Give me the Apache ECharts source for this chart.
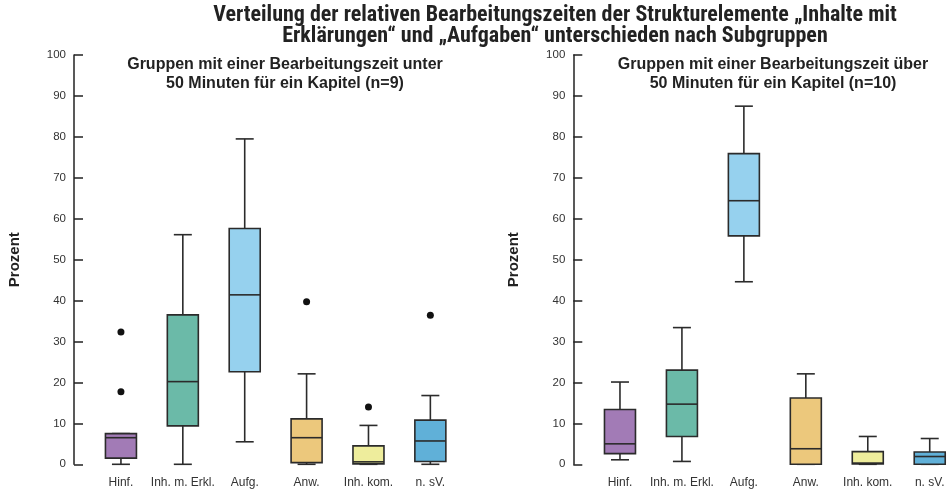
<!DOCTYPE html>
<html><head><meta charset="utf-8">
<script src="https://cdn.jsdelivr.net/npm/echarts@6/dist/echarts.min.js"></script>
<style>html,body{margin:0;padding:0;background:#fff}#c{width:947px;height:492px}</style>
</head><body><div id="c"></div>
<script>
const categories = ['Hinf.', 'Inh. m. Erkl.', 'Aufg.', 'Anw.', 'Inh. kom.', 'n. sV.'];
const boxColors = ['#a27bb6', '#6bbaa8', '#96d1ee', '#ecc87c', '#eeed9c', '#60b0d8'];
const yTicks = [0, 10, 20, 30, 40, 50, 60, 70, 80, 90, 100];

// Panel 1: < 50 min (n=9)
const p1Min = [0, 0, 5.5, 0, 0, 0];
const p1Q1  = [1.5, 9.4, 22.6, 0.4, 0.1, 0.7];
const p1Med = [6.5, 20.2, 41.4, 6.5, 0.6, 5.7];
const p1Q3  = [7.5, 36.5, 57.6, 11.1, 4.5, 10.8];
const p1Max = [7.5, 56.1, 79.5, 22.1, 9.5, 16.8];
const p1OutCat = ['Hinf.', 'Hinf.', 'Anw.', 'Inh. kom.', 'n. sV.'];
const p1OutVal = [32.3, 17.7, 39.7, 14.0, 36.4];

// Panel 2: > 50 min (n=10)
const p2Min = [1.1, 0.7, 44.6, 0, 0, 0];
const p2Q1  = [2.6, 6.8, 55.8, 0, 0.1, 0];
const p2Med = [5.0, 14.7, 64.4, 3.8, 0.3, 1.9];
const p2Q3  = [13.4, 23.0, 75.9, 16.2, 3.1, 3.0];
const p2Max = [20.1, 33.4, 87.5, 22.1, 6.8, 6.3];

const mainTitle1 = 'Verteilung der relativen Bearbeitungszeiten der Strukturelemente „Inhalte mit';
const mainTitle2 = 'Erklärungen“ und „Aufgaben“ unterschieden nach Subgruppen';
const sub1a = 'Gruppen mit einer Bearbeitungszeit unter';
const sub1b = '50 Minuten für ein Kapitel (n=9)';
const sub2a = 'Gruppen mit einer Bearbeitungszeit über';
const sub2b = '50 Minuten für ein Kapitel (n=10)';
const yName = 'Prozent';

function boxData(mn, q1, md, q3, mx) {
  return categories.map((c, i) => [i, mn[i], q1[i], md[i], q3[i], mx[i]]);
}

const BW = 31, CAP = 18, STROKE = '#2b2b2b';
function renderBox(params, api) {
  const i = api.value(0);
  const pMin = api.coord([i, api.value(1)]);
  const pQ1 = api.coord([i, api.value(2)]);
  const pMed = api.coord([i, api.value(3)]);
  const pQ3 = api.coord([i, api.value(4)]);
  const pMax = api.coord([i, api.value(5)]);
  const x = pMin[0];
  const ls = { stroke: STROKE, lineWidth: 1.6 };
  return {
    type: 'group',
    children: [
      { type: 'line', shape: { x1: x, y1: pMax[1], x2: x, y2: pQ3[1] }, style: ls },
      { type: 'line', shape: { x1: x, y1: pQ1[1], x2: x, y2: pMin[1] }, style: ls },
      { type: 'line', shape: { x1: x - CAP / 2, y1: pMax[1], x2: x + CAP / 2, y2: pMax[1] }, style: ls },
      { type: 'line', shape: { x1: x - CAP / 2, y1: pMin[1], x2: x + CAP / 2, y2: pMin[1] }, style: ls },
      { type: 'rect', shape: { x: x - BW / 2, y: pQ3[1], width: BW, height: pQ1[1] - pQ3[1] },
        style: { fill: boxColors[i], stroke: STROKE, lineWidth: 1.6 } },
      { type: 'line', shape: { x1: x - BW / 2, y1: pMed[1], x2: x + BW / 2, y2: pMed[1] }, style: ls }
    ]
  };
}

const axisFont = 'Liberation Sans, Arial, sans-serif';
function yAxisDef(gi, off) {
  return {
    type: 'value', gridIndex: gi, min: 0, max: 100, interval: 10, offset: off,
    name: yName, nameLocation: 'middle', nameGap: 52,
    nameTextStyle: { fontFamily: axisFont, fontWeight: 'bold', fontSize: 15, color: '#222' },
    axisLine: { show: true, lineStyle: { color: '#222', width: 1.5 } },
    axisTick: { show: true, inside: true, length: 9, lineStyle: { color: '#222', width: 1.5 } },
    axisLabel: { fontFamily: axisFont, fontSize: 11.5, color: '#333', margin: 8 },
    splitLine: { show: false }
  };
}
function xAxisDef(gi) {
  return {
    type: 'category', gridIndex: gi, data: categories, boundaryGap: true,
    axisLine: { show: false }, axisTick: { show: false },
    axisLabel: { fontFamily: axisFont, fontSize: 12, color: '#333', margin: 12, interval: 0 }
  };
}

const chart = echarts.init(document.getElementById('c'), null, { renderer: 'canvas' });
const tFont = { fontFamily: 'Liberation Sans Narrow, Roboto Condensed, Liberation Sans, sans-serif', fontWeight: 'bold', fontSize: 22 };
const sFont = { fontFamily: axisFont, fontWeight: 'bold', fontSize: 16 };
function txt(t, x, y, f) {
  return { type: 'text', x: x, y: y, style: Object.assign({ text: t, fill: '#222', align: 'center', verticalAlign: 'middle' }, f) };
}
chart.setOption({
  animation: false,
  backgroundColor: '#fff',
  graphic: [
    txt(mainTitle1, 555, 15, tFont),
    txt(mainTitle2, 555, 36, tFont),
    txt(sub1a, 285, 65, sFont),
    txt(sub1b, 285, 84, sFont),
    txt(sub2a, 773, 65, sFont),
    txt(sub2b, 773, 84, sFont)
  ],
  grid: [
    { left: 90, width: 371.3, top: 55, bottom: 27.7, outerBoundsMode: 'none', containLabel: false },
    { left: 589, width: 371.7, top: 55, bottom: 27.7, outerBoundsMode: 'none', containLabel: false }
  ],
  xAxis: [xAxisDef(0), xAxisDef(1)],
  yAxis: [yAxisDef(0, 16), yAxisDef(1, 15.7)],
  series: [
    { type: 'custom', xAxisIndex: 0, yAxisIndex: 0, renderItem: renderBox,
      encode: { x: 0, y: [1, 2, 3, 4, 5] }, data: boxData(p1Min, p1Q1, p1Med, p1Q3, p1Max) },
    { type: 'custom', xAxisIndex: 1, yAxisIndex: 1, renderItem: renderBox,
      encode: { x: 0, y: [1, 2, 3, 4, 5] }, data: boxData(p2Min, p2Q1, p2Med, p2Q3, p2Max) },
    { type: 'scatter', xAxisIndex: 0, yAxisIndex: 0, symbolSize: 7,
      itemStyle: { color: '#111', opacity: 1 }, data: p1OutCat.map((c, k) => [c, p1OutVal[k]]) }
  ]
});
</script></body></html>
